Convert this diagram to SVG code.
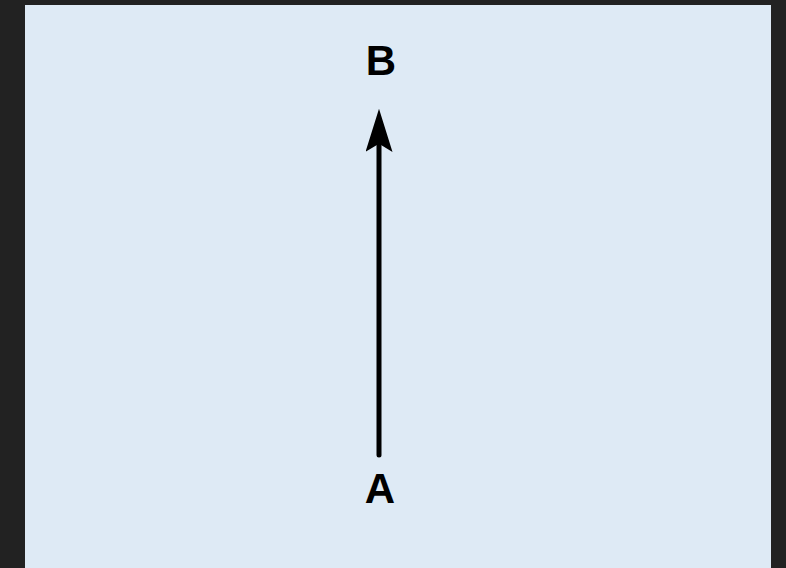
<svg xmlns="http://www.w3.org/2000/svg" width="786" height="568" viewBox="0 0 786 568">
<style>
.lbl{font-family:"Liberation Sans",Arial,sans-serif;font-weight:bold;font-size:42px;fill:#000;text-anchor:middle}
.edge{stroke:#000;stroke-width:5;stroke-linecap:round;fill:none}
</style>
<defs>
<marker id="arr" viewBox="0 0 16 10" refX="4.4" refY="5" markerWidth="8.8" markerHeight="5.4" markerUnits="strokeWidth" orient="auto">
<path d="M0,0 L16,5 L0,10 L3,5 Z" fill="#000"/>
</marker>
</defs>
<rect x="0" y="0" width="786" height="568" fill="#222"/>
<rect x="25" y="5" width="746" height="563" fill="#deeaf5"/>
<g id="connectors">
<path class="edge" d="M379,455 L379,140" marker-end="url(#arr)"/>
</g>
<g id="nodeB"><text class="lbl" x="381" y="75">B</text></g>
<g id="nodeA"><text class="lbl" x="380" y="503">A</text></g>
</svg>
